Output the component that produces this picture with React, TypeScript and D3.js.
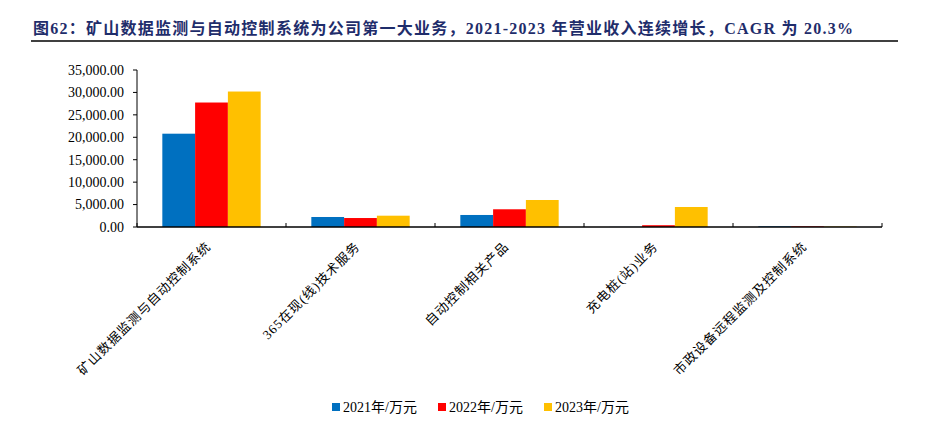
import React from "react";
import * as d3 from "d3";

const categories = [
  "矿山数据监测与自动控制系统",
  "365在现(线)技术服务",
  "自动控制相关产品",
  "充电桩(站)业务",
  "市政设备远程监测及控制系统",
];
const seriesNames = ["2021年/万元", "2022年/万元", "2023年/万元"];
const values2021 = [20800, 2230, 2680, 30, 150];
const values2022 = [27750, 2000, 3950, 400, 150];
const values2023 = [30200, 2520, 6020, 4460, 100];
const yTicks = [0, 5000, 10000, 15000, 20000, 25000, 30000, 35000];
const colors = ["#0070C0", "#FF0000", "#FFC000"];

const W = 926;
const H = 425;
const margin = { left: 137, right: 44, top: 70, bottom: 198 };

export default function App() {
  const series = [values2021, values2022, values2023];
  const x0 = d3
    .scaleBand<string>()
    .domain(categories)
    .range([margin.left, W - margin.right])
    .paddingInner(0.34)
    .paddingOuter(0.17);
  const x1 = d3
    .scaleBand<number>()
    .domain([0, 1, 2])
    .range([0, x0.bandwidth()]);
  const y = d3
    .scaleLinear()
    .domain([0, 35000])
    .range([H - margin.bottom, margin.top]);
  const fmt = d3.format(",.2f");
  const step = (W - margin.right - margin.left) / categories.length;
  const serif = "'Liberation Serif', 'Times New Roman', 'Noto Sans CJK SC', serif";
  const cjk = "'Liberation Serif', 'Noto Sans CJK SC', serif";
  const y0 = y(0);

  return (
    <svg width={W} height={H} style={{ position: "absolute", left: 0, top: 0, background: "#fff" }}>
      <text
        x={33}
        y={34}
        fontFamily={cjk}
        fontWeight="bold"
        fontSize={16}
        fill="#1F2D6B"
        textLength={820}
        lengthAdjust="spacing"
      >
        图62：矿山数据监测与自动控制系统为公司第一大业务，2021-2023 年营业收入连续增长，CAGR 为 20.3%
      </text>
      <line x1={31} x2={898} y1={41} y2={41} stroke="#000" strokeWidth={1.5} />

      {/* bars */}
      {categories.map((c, i) => (
        <g key={c}>
          {series.map((s, j) => (
            <rect
              key={j}
              x={(x0(c) as number) + (x1(j) as number)}
              y={y(s[i])}
              width={x1.bandwidth()}
              height={y0 - y(s[i])}
              fill={colors[j]}
            />
          ))}
        </g>
      ))}

      {/* y axis */}
      <line x1={margin.left} x2={margin.left} y1={margin.top} y2={y0} stroke="#000" strokeWidth={1} />
      {yTicks.map((t) => (
        <g key={t}>
          <line x1={margin.left - 4} x2={margin.left} y1={y(t)} y2={y(t)} stroke="#000" />
          <text
            x={margin.left - 13}
            y={y(t)}
            dy="0.35em"
            textAnchor="end"
            fontFamily={serif}
            fontSize={14}
            fill="#000"
          >
            {fmt(t)}
          </text>
        </g>
      ))}

      {/* x axis */}
      <line x1={margin.left} x2={W - margin.right} y1={y0} y2={y0} stroke="#000" strokeWidth={1.5} />
      {d3.range(categories.length + 1).map((k) => (
        <line
          key={k}
          x1={margin.left + k * step}
          x2={margin.left + k * step}
          y1={y0}
          y2={y0 - 4}
          stroke="#000"
        />
      ))}
      {categories.map((c) => {
        const cx = (x0(c) as number) + x0.bandwidth() / 2 - 3;
        const cy = y0 + 17;
        return (
          <text
            key={c}
            transform={`translate(${cx},${cy}) rotate(-45)`}
            textAnchor="end"
            fontFamily={cjk}
            fontSize={13}
            letterSpacing={1}
            fill="#000"
            dy="0.35em"
          >
            {c}
          </text>
        );
      })}

      {/* legend */}
      {seriesNames.map((n, j) => {
        const lx = 332 + j * 106;
        return (
          <g key={n}>
            <rect x={lx} y={403} width={8} height={8} fill={colors[j]} />
            <text x={lx + 11} y={411.5} fontFamily={cjk} fontSize={14} fill="#000">
              {n}
            </text>
          </g>
        );
      })}
    </svg>
  );
}
